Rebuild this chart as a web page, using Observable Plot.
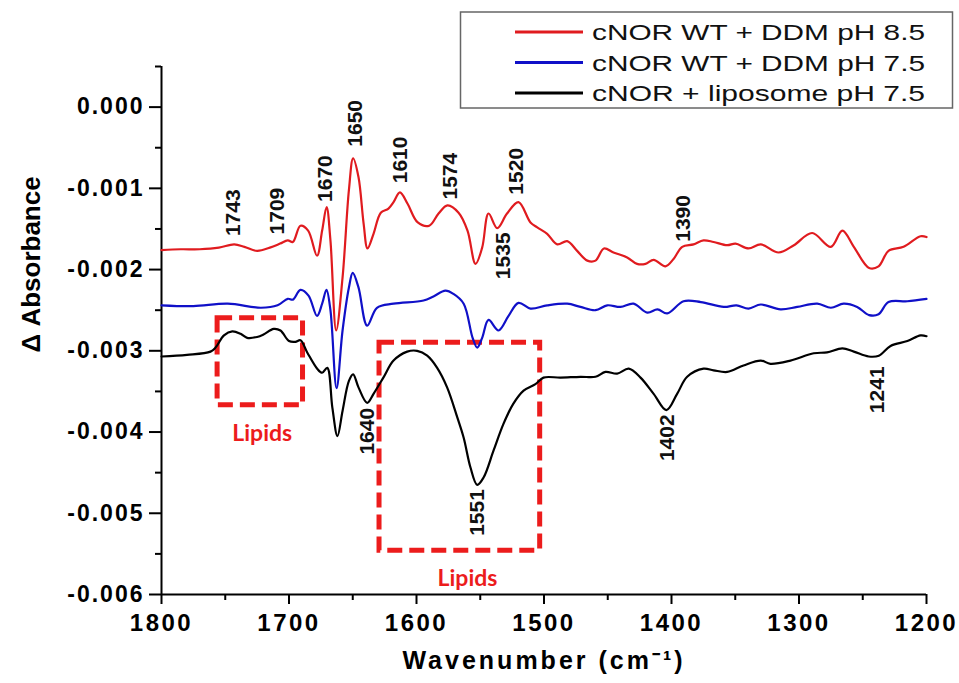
<!DOCTYPE html>
<html>
<head>
<meta charset="utf-8">
<script src="https://cdn.jsdelivr.net/npm/d3@7"></script>
<script src="https://cdn.jsdelivr.net/npm/@observablehq/plot@0.6"></script>
<style>
  html, body { margin: 0; padding: 0; background: #fff; }
  #wrap { position: relative; width: 959px; height: 683px; }
  #legend { position: absolute; left: 0; top: 0; pointer-events: none; }
  g[aria-label="x-axis tick label"] text { letter-spacing: 2.5px; }
  g[aria-label="y-axis tick label"] text { letter-spacing: 2px; }
</style>
</head>
<body>
<div id="wrap"></div>
<script>
// ---------- data ----------
const seriesNames = ["cNOR WT + DDM pH 8.5", "cNOR WT + DDM pH 7.5", "cNOR + liposome pH 7.5"];
const seriesColors = ["#e01b1f", "#1010c8", "#000000"];

const redWn = [1800,1785,1770,1755,1743,1735,1725,1715,1707,1701,1697,1691,1685,1678,1674,1670.5,1667.5,1663,1658,1653,1649.7,1645.5,1641.5,1638.4,1633.7,1628,1622,1618,1613,1607,1599,1590,1582.7,1575.7,1567,1560,1553.7,1548.5,1543.5,1536.7,1529,1520,1510.6,1505.3,1497.5,1489.6,1481.8,1474,1466,1459.6,1453,1445.5,1434.8,1427,1420.4,1414,1404.7,1398.4,1391.6,1382.7,1374.9,1367,1356.3,1349.8,1339.6,1330,1316,1304,1289.7,1275,1266,1257,1245,1237.6,1229.8,1218,1204.7,1200];
const redAbs = [-0.00176,-0.00175,-0.00175,-0.00173,-0.00169,-0.00172,-0.00177,-0.00173,-0.00168,-0.00164,-0.00166,-0.00146,-0.00152,-0.00183,-0.00152,-0.00123,-0.00164,-0.00275,-0.00210,-0.00102,-0.00063,-0.00086,-0.00143,-0.00174,-0.00156,-0.00130,-0.00125,-0.00117,-0.00105,-0.00119,-0.00142,-0.00146,-0.00131,-0.00121,-0.00130,-0.00152,-0.00193,-0.00173,-0.00131,-0.00149,-0.00131,-0.00117,-0.00142,-0.00148,-0.00156,-0.00169,-0.00165,-0.00177,-0.00189,-0.00189,-0.00174,-0.00179,-0.00185,-0.00193,-0.00193,-0.00188,-0.00196,-0.00187,-0.00172,-0.00169,-0.00164,-0.00166,-0.00170,-0.00168,-0.00174,-0.00169,-0.00179,-0.00170,-0.00155,-0.00172,-0.00152,-0.00172,-0.00198,-0.00196,-0.00177,-0.00172,-0.00159,-0.00160];

const blueWn = [1800,1775,1748,1722,1709,1701,1697,1691,1684.7,1678,1674,1670.6,1667.5,1662.7,1658,1653,1650,1645.5,1638.7,1631,1618,1594.5,1586.7,1577.3,1571,1563,1556,1552.4,1548.5,1543.5,1535.7,1527.8,1520,1510.6,1497.5,1481.8,1471.4,1459.6,1450.4,1440,1429.8,1419,1411,1403.4,1390.6,1377,1359,1349,1339.6,1330,1314.5,1301.4,1285.7,1275,1265,1254.4,1245,1237.6,1229.8,1215,1200];
const blueAbs = [-0.00244,-0.00245,-0.00242,-0.00247,-0.00244,-0.00236,-0.00237,-0.00225,-0.00232,-0.00257,-0.00242,-0.00225,-0.00250,-0.00346,-0.00275,-0.00222,-0.00204,-0.00222,-0.00269,-0.00247,-0.00242,-0.00238,-0.00233,-0.00226,-0.00230,-0.00242,-0.00284,-0.00296,-0.00284,-0.00262,-0.00275,-0.00257,-0.00241,-0.00248,-0.00244,-0.00242,-0.00246,-0.00250,-0.00244,-0.00246,-0.00242,-0.00253,-0.00249,-0.00254,-0.00239,-0.00240,-0.00246,-0.00244,-0.00248,-0.00243,-0.00249,-0.00246,-0.00242,-0.00247,-0.00242,-0.00246,-0.00256,-0.00255,-0.00240,-0.00239,-0.00236];

const blackWn = [1800,1780,1761.6,1757.6,1751,1744.5,1738,1732.8,1725,1720,1712,1706.7,1700,1695,1691,1685.7,1677.9,1674,1670,1666,1662,1658,1653,1649.7,1645.5,1638.7,1633.7,1626,1618,1607.3,1599.5,1591.6,1583.8,1576,1568,1563,1557.6,1552.4,1547.4,1539.6,1531.8,1524,1516,1506.7,1500.4,1487,1471.4,1459.6,1451.8,1442.6,1433.5,1424.3,1414,1404,1395.6,1387.7,1374.9,1367,1356.3,1343.5,1330,1322.4,1306.7,1288.4,1278,1266,1257,1245.3,1237.4,1228.2,1215,1204.7,1200];
const blackAbs = [-0.00307,-0.00305,-0.00301,-0.00296,-0.00281,-0.00276,-0.00279,-0.00284,-0.00283,-0.00280,-0.00273,-0.00275,-0.00288,-0.00289,-0.00287,-0.00302,-0.00322,-0.00327,-0.00321,-0.00370,-0.00405,-0.00374,-0.00337,-0.00329,-0.00345,-0.00364,-0.00353,-0.00333,-0.00312,-0.00301,-0.00300,-0.00306,-0.00321,-0.00345,-0.00382,-0.00407,-0.00444,-0.00465,-0.00456,-0.00423,-0.00390,-0.00365,-0.00349,-0.00341,-0.00333,-0.00333,-0.00332,-0.00332,-0.00326,-0.00328,-0.00322,-0.00333,-0.00353,-0.00373,-0.00353,-0.00332,-0.00322,-0.00324,-0.00326,-0.00318,-0.00312,-0.00316,-0.00312,-0.00303,-0.00302,-0.00297,-0.00301,-0.00307,-0.00306,-0.00294,-0.00288,-0.00281,-0.00282];

// peak annotations (label, wavenumber, absorbance at label centre)
const peakText = ["1743","1709","1670","1650","1610","1574","1520","1535","1390","1640","1551","1402","1241"];
const peakWn   = [1743.5,1709,1671.4,1648,1612.5,1573.3,1522,1531.8,1390.6,1639,1552,1403,1238.4];
const peakAbs  = [-0.0013,-0.00128,-0.00088,-0.0002,-0.00065,-0.00085,-0.00079,-0.00183,-0.00137,-0.00399,-0.00499,-0.00407,-0.00348];

// dashed "Lipids" regions
const boxWn1 = [1756, 1629];
const boxWn2 = [1689, 1503];
const boxAbs1 = [-0.0026, -0.0029];
const boxAbs2 = [-0.00367, -0.00546];
const lipidText = ["Lipids", "Lipids"];
const lipidWn = [1721, 1560];
const lipidAbs = [-0.00402, -0.0058];

// axes
const xMajor = [1800,1700,1600,1500,1400,1300,1200];
const xMinor = [1750,1650,1550,1450,1350,1250];
const yMajor = [0,-0.001,-0.002,-0.003,-0.004,-0.005,-0.006];
const yMinor = [0.0005,-0.0005,-0.0015,-0.0025,-0.0035,-0.0045,-0.0055];
const xTitle = "Wavenumber (cm\u207B\u00B9)";
const yTitle = "\u0394 Absorbance";

// ---------- build tables ----------
const rows = [];
[[redWn, redAbs], [blueWn, blueAbs], [blackWn, blackAbs]].forEach(([w, a], i) => {
  w.forEach((v, j) => rows.push({series: seriesNames[i], wn: v, abs: a[j]}));
});
const peaks = peakText.map((t, i) => ({t, wn: peakWn[i], abs: peakAbs[i]}));
const boxes = boxWn1.map((v, i) => ({x1: v, x2: boxWn2[i], y1: boxAbs1[i], y2: boxAbs2[i]}));
const lipids = lipidText.map((t, i) => ({t, wn: lipidWn[i], abs: lipidAbs[i]}));
const red = "#ec1c1c";

const chart = Plot.plot({
  width: 959,
  height: 683,
  marginLeft: 161,
  marginRight: 33,
  marginTop: 66,
  marginBottom: 89,
  style: {fontFamily: "'Liberation Sans', Arial, sans-serif", background: "#fff", color: "#000", overflow: "visible"},
  x: {domain: [1800, 1200], label: null},
  y: {domain: [-0.006, 0.0005], label: null},
  color: {domain: seriesNames, range: seriesColors},
  marks: [
    Plot.axisY(yMajor, {tickSize: 12, tickPadding: 5, tickFormat: d => d.toFixed(3), fontSize: 23, fontWeight: "bold", strokeWidth: 2, label: null}),
    Plot.axisY(yMinor, {tickSize: 6, tickFormat: () => "", strokeWidth: 2, label: null}),
    Plot.axisX(xMajor, {tickSize: 10, tickPadding: 9, tickFormat: d => String(d), fontSize: 24, fontWeight: "bold", strokeWidth: 2, label: null}),
    Plot.axisX(xMinor, {tickSize: 6, tickFormat: () => "", strokeWidth: 2, label: null}),
    Plot.ruleX([1800], {strokeWidth: 2}),
    Plot.ruleY([-0.006], {strokeWidth: 2}),
    Plot.rect(boxes, {x1: "x1", x2: "x2", y1: "y1", y2: "y2", fill: "none", stroke: red, strokeWidth: 5, strokeDasharray: "15,7"}),
    Plot.line(rows, {x: "wn", y: "abs", z: "series", stroke: "series", strokeWidth: 2.2, curve: "catmull-rom"}),
    Plot.text(peaks, {x: "wn", y: "abs", text: "t", rotate: -90, fontSize: 21, fontWeight: "bold", fill: "#111"}),
    Plot.text(lipids, {x: "wn", y: "abs", text: "t", fontSize: 23, fontWeight: "bold", fontFamily: "Lato, 'Open Sans', sans-serif", fill: red}),
    Plot.text([yTitle], {frameAnchor: "left", text: d => d, dx: -130, dy: 22, rotate: -90, fontSize: 26, fontWeight: "bold"}),
    Plot.text([xTitle], {frameAnchor: "bottom", text: d => d, dy: 74, fontSize: 25, fontWeight: "bold"})
  ]
});

d3.select(chart).selectAll("text").filter(function() { return this.textContent === xTitle; })
  .style("letter-spacing", "3px");

const wrap = document.getElementById("wrap");
wrap.appendChild(chart);

// ---------- legend (boxed, top right) ----------
const leg = d3.select(wrap).append("svg")
  .attr("id", "legend").attr("width", 959).attr("height", 120)
  .style("font-family", "'Liberation Sans', Arial, sans-serif");
leg.append("rect").attr("x", 460.5).attr("y", 12).attr("width", 492).attr("height", 96)
  .attr("fill", "#fff").attr("stroke", "#666").attr("stroke-width", 1.5);
seriesNames.forEach((name, i) => {
  const cy = 32 + i * 30.5;
  leg.append("line").attr("x1", 515).attr("x2", 583).attr("y1", cy).attr("y2", cy)
    .attr("stroke", seriesColors[i]).attr("stroke-width", 3);
  leg.append("text").attr("x", 592).attr("y", cy + 8).attr("font-size", 22)
    .attr("textLength", 333).attr("lengthAdjust", "spacingAndGlyphs")
    .attr("fill", "#111").text(name);
});
</script>
</body>
</html>
